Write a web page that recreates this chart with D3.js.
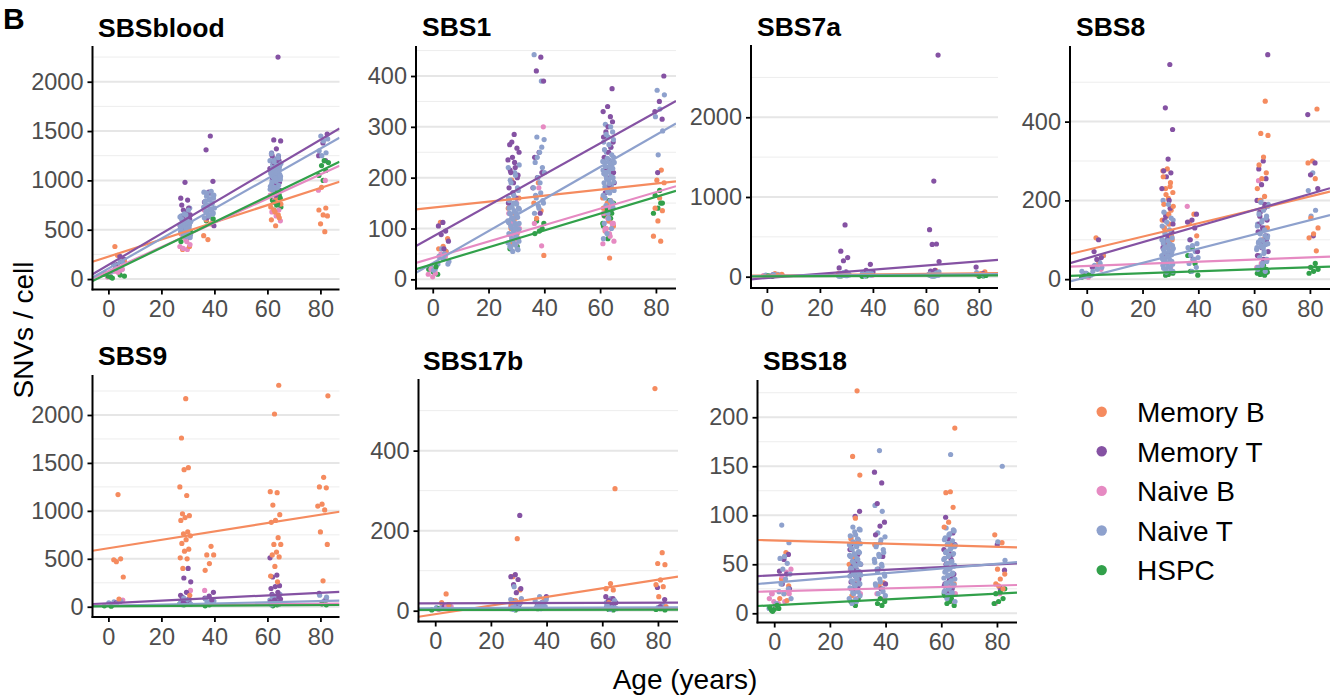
<!DOCTYPE html>
<html><head><meta charset="utf-8">
<script src="https://cdn.jsdelivr.net/npm/d3@7"></script>
<style>body{margin:0;background:#fff}svg{display:block}text{font-family:"Liberation Sans",Arial,sans-serif}</style>
</head><body>
<svg id="c" width="1341" height="699"></svg>
<script>
// ---------- DATA ----------
const ages = [0, 4, 29, 38, 63, 81];
const cellTypes = ["Memory B", "Memory T", "Naive B", "Naive T", "HSPC"];
const colors = ["#F58B5F", "#8552A3", "#E68AC2", "#8EA1CD", "#31A04A"];
const xTicks = [0, 20, 40, 60, 80];

// values per cell type (order of cellTypes), per donor (order of ages)
const SBSblood = [
  [[], [330, 200, 240, 180], [300, 330, 420, 460, 500, 550], [400, 440, 560, 600], [540, 600, 650, 700, 760, 820, 900, 620, 680, 730], [480, 560, 640, 650, 700, 720, 930]],
  [[], [150, 200, 230, 130, 170], [980, 820, 800, 700, 650, 600, 750, 720, 560, 540, 680, 630, 610, 580, 520], [1450, 1310, 990, 880, 780, 700, 620, 540], [2250, 1410, 1400, 1320, 1250, 1200, 1150, 1100, 1050, 1000, 900, 850, 1270, 1230, 1180, 1120, 1080, 1030, 980, 950], [1470, 1380, 1250, 1200]],
  [[20, 50, 70], [60, 80, 100, 70], [300, 310, 350, 400, 480, 520, 620, 330, 380, 450], [600, 650, 700], [590, 640, 680, 700, 800, 850], [900, 1000]],
  [[40, 60, 80], [100, 130, 150, 180, 110, 160], [720, 680, 640, 620, 600, 580, 560, 540, 520, 500, 480, 460, 440, 420, 650, 610, 700, 660, 630, 590, 570, 550, 530, 510, 490, 470, 450, 430, 600, 580, 560, 540], [880, 860, 840, 820, 800, 780, 760, 740, 720, 700, 680, 660, 640, 620, 890, 870, 850, 810, 790, 770, 750, 730, 710, 690, 670, 650], [1280, 1250, 1220, 1200, 1180, 1160, 1140, 1120, 1100, 1080, 1060, 1040, 1020, 1000, 980, 960, 940, 920, 900, 1010, 1090, 1270, 1230, 1190, 1170, 1150, 1130, 1110, 1090, 1070, 1050, 1030, 1010, 990, 970, 950, 930, 910, 1150, 1100, 1060, 1020], [1450, 1420, 1400, 1300, 1280, 1250]],
  [[10, 30, 50, 20], [30, 40], [380, 420, 450, 480], [590, 610, 640], [700, 730, 750, 800, 850, 900, 920, 760, 780, 820, 870], [1000, 1050, 1100, 1150, 1180, 1200]]
];
const SBS1 = [
  [[], [112, 80, 65, 60, 55], [195, 160, 130, 110, 90, 70, 140, 120, 100, 80], [190, 150, 135, 120, 47], [42, 95, 110, 125, 140, 155, 100, 105, 115, 130, 145, 150, 160], [215, 195, 190, 160, 140, 135, 115, 85, 75]],
  [[], [112, 105, 95, 88, 75, 60], [285, 265, 258, 240, 235, 220, 210, 205, 190, 180, 160, 270, 250, 230, 215, 200, 170, 150], [437, 410, 390, 250, 240, 210, 200, 180, 130], [375, 340, 330, 320, 290, 270, 250, 240, 230, 200, 190, 180, 170, 310, 300, 280, 260, 220, 210, 185], [400, 350, 330, 315, 210]],
  [[5, 10, 12, 20], [45, 50], [150, 120, 100, 80, 65, 95, 110, 130, 70, 85], [300, 180, 110, 66], [70, 85, 95, 105, 115, 125, 135, 145, 75, 90, 100, 110, 120, 130, 140, 100, 110], []],
  [[20, 25, 30, 18], [30, 40, 45, 55, 60, 35, 50], [225, 210, 195, 180, 170, 160, 150, 145, 140, 135, 130, 125, 120, 115, 110, 105, 100, 95, 90, 85, 80, 75, 70, 65, 60, 55, 220, 205, 190, 175, 165, 155, 148, 142, 138, 132, 128, 122, 118, 112, 108, 102, 98, 92, 88, 82, 78, 72, 68, 62, 58, 150, 140, 130, 120, 110, 100], [442, 390, 280, 275, 250, 230, 220, 200, 180, 170, 160, 150, 140, 130, 260, 240, 210, 190, 165, 155, 145], [305, 290, 280, 270, 260, 250, 240, 235, 230, 225, 220, 215, 210, 205, 200, 195, 190, 185, 180, 175, 170, 160, 150, 130, 80, 300, 285, 275, 265, 255, 245, 238, 232, 228, 222, 218, 212, 208, 202, 198, 192, 188, 182, 178, 172, 165, 155, 145, 140, 120, 110, 100, 90, 230, 220, 210, 200], [372, 363, 335, 320, 292, 245]],
  [[10, 15, 20, 25], [], [60, 65, 75], [115, 110, 95, 90, 100], [80, 105, 120, 135, 150, 155, 125, 130, 140, 110], [175, 165, 150, 140, 130, 150]]
];
const SBS7a = [
  [[], [40, 30, 20], [20, 40], [30, 20], [80, 60, 40, 20], [60, 40, 30]],
  [[], [15, 25], [650, 320, 240, 200, 110, 60, 40], [155, 80, 60, 40], [2780, 1200, 590, 410, 405, 190, 80, 70, 50, 30], [120, 40]],
  [[5, 15], [20], [15, 30], [20], [30, 20], []],
  [[10, 20], [20, 30, 25], [10, 20, 30, 40, 15, 25, 12, 18, 22, 28, 35, 45, 50, 8], [10, 20, 30, 40, 25, 15, 35, 45], [10, 20, 30, 40, 50, 15, 25, 12, 18, 22, 28, 35, 45, 8, 60], [30, 50, 20]],
  [[5, 10], [], [10], [10, 5], [10, 20], [10, 5, 15]]
];
const SBS8 = [
  [[], [105, 60, 40], [280, 275, 235, 230, 220, 205, 190, 175, 160, 150, 140, 120, 100, 90, 260, 245, 215, 185, 165, 130, 110], [165, 145, 110], [452, 370, 365, 310, 290, 270, 255, 230, 210, 200, 130, 100, 60], [432, 300, 295, 255, 155, 130, 115, 105, 72]],
  [[15], [100, 70, 55, 50, 30], [545, 435, 380, 305, 275, 270, 260, 230, 200, 150, 120, 100, 80, 180, 160, 140, 110, 90, 70, 60], [165, 150, 145, 130, 100, 70, 50], [570, 300, 280, 255, 240, 200, 180, 160, 150, 130, 120, 110, 90, 70, 50, 140, 100, 80, 60, 190, 170], [418, 295, 265, 230, 110]],
  [[5, 12], [25, 30], [80, 60, 40, 30, 20], [185, 50], [250, 50, 40, 30], [30]],
  [[10, 15, 20], [60, 45, 35, 30, 25, 20, 40], [200, 180, 165, 150, 140, 130, 120, 110, 100, 95, 90, 85, 80, 75, 70, 65, 60, 55, 50, 45, 40, 35, 30, 25, 20, 190, 170, 155, 145, 135, 125, 115, 105, 98, 92, 88, 82, 78, 72, 68, 62, 58, 52, 48, 42, 38, 32, 28, 22, 18, 100, 90, 80, 70, 60, 50], [100, 90, 85, 80, 70, 60, 55, 50, 40, 30, 20], [200, 190, 180, 170, 160, 150, 140, 130, 120, 110, 100, 95, 90, 85, 80, 70, 60, 50, 40, 30, 20, 195, 185, 175, 165, 155, 145, 135, 125, 115, 105, 98, 92, 88, 82, 75, 65, 55, 45, 35, 25, 110, 100, 90, 80], [270, 225, 175, 160]],
  [[5, 10, 8], [], [10, 15, 12], [80, 60, 40, 20, 10], [35, 30, 25, 20, 15, 10, 12, 18, 22, 28, 16, 14], [40, 30, 25, 20, 15]]
];
const SBS9 = [
  [[], [1170, 490, 500, 470, 310, 80], [2170, 1760, 1450, 1430, 1250, 1160, 970, 950, 930, 900, 780, 760, 740, 700, 660, 600, 580, 510, 500, 400, 120], [630, 540, 540, 450, 380], [2310, 2010, 1200, 1190, 1060, 960, 900, 880, 720, 650, 650, 570, 540, 520, 420, 320, 260], [2200, 1350, 1250, 1240, 1070, 1050, 1010, 780, 650, 270]],
  [[], [60, 40], [400, 300, 260, 150, 100, 80, 60, 120, 50, 40, 30], [150, 110, 90, 70], [510, 330, 310, 220, 210, 190, 150, 110, 80, 60, 130, 100, 70, 50, 40], [140, 80]],
  [[30], [70], [170, 60], [170], [30], [30]],
  [[20, 40], [50, 60, 30], [40, 60, 80, 30, 50, 20, 35, 45, 55, 70, 90, 25], [40, 60, 50, 80], [40, 60, 80, 100, 130, 50, 20, 30, 45, 70, 90, 110], [60, 120, 100]],
  [[10, 5], [], [20, 30], [20, 10], [20, 10, 30], [20, 30]]
];
const SBS17b = [
  [[], [42, 20, 15], [180, 85, 52, 25, 15], [25, 15], [305, 68, 55, 52, 20], [555, 145, 118, 115, 77, 65, 60, 35, 10]],
  [[], [15, 10], [238, 90, 85, 78, 65, 55, 45, 25, 15], [35, 20, 15], [35, 30, 25, 20, 15, 10], [58, 28, 10]],
  [[3], [10, 12], [10, 5], [10], [10], []],
  [[5, 8], [10, 12], [25, 20, 15, 10, 5, 60, 30, 12, 8, 18, 22, 28, 6, 3], [35, 25, 20, 15, 10, 5, 8, 12, 18, 28], [30, 20, 15, 10, 5, 8, 12, 25, 3], [15, 8]],
  [[2, 5], [], [2, 5], [8, 5], [2, 3], [2, 5, 3]]
];
const SBS18 = [
  [[], [62, 35, 28, 20, 15, 13], [227, 160, 141, 97, 76, 72, 58, 50, 30, 18], [31, 28, 70], [189, 124, 123, 108, 93, 88, 70, 50, 30], [80, 72, 45, 40, 35, 30, 25, 28]],
  [[8], [60, 55, 43, 40, 30, 25], [104, 99, 70, 60, 55, 50, 45, 40, 35, 30, 65, 52, 48, 42, 38, 32, 28, 25], [144, 133, 112, 93, 89, 80, 58, 45, 30, 25], [98, 82, 76, 65, 55, 45, 40, 35, 30, 25, 20, 70, 60, 50, 36, 32, 28], [70, 44, 26]],
  [[10, 12, 15, 8, 20], [45, 42, 38, 20, 12], [45, 30, 25, 20, 15], [20, 15], [30, 20, 12], [20, 10]],
  [[5, 10, 20, 22], [90, 72, 58, 56, 51, 45, 40, 35, 30, 25, 20, 15], [88, 85, 80, 78, 75, 72, 70, 68, 65, 62, 60, 58, 55, 52, 50, 48, 45, 42, 40, 38, 35, 32, 30, 28, 25, 22, 20, 15, 12, 10, 86, 83, 79, 76, 73, 71, 69, 66, 63, 61, 59, 56, 53, 51, 49, 46, 43, 41, 39, 36, 33, 31, 29, 26, 23, 21, 18, 14], [166, 110, 104, 82, 78, 72, 68, 65, 60, 55, 50, 45, 40, 35, 30, 25, 20, 18, 75, 70, 62, 58, 52, 48, 42, 38, 32, 28, 22], [162, 87, 85, 80, 75, 72, 70, 68, 65, 62, 60, 58, 55, 52, 50, 48, 45, 42, 40, 38, 35, 32, 30, 28, 25, 22, 20, 15, 84, 81, 77, 74, 71, 69, 66, 63, 61, 59, 56, 53, 51, 49, 46, 43, 41, 39, 36, 33, 31, 29, 26, 23, 21, 18, 12], [150, 73, 54]],
  [[3, 5, 4, 6, 8, 2], [], [8, 12, 15], [8, 10, 12, 15], [28, 25, 20, 15, 10, 8, 12, 18], [25, 22, 20, 15, 12, 10]]
];

// linear fits: intercept and slope per cell type
const fitIntercept = {
  SBSblood: [227, 143, 79, 106, 58],
  SBS1: [141, 84, 42, 32, 30],
  SBS7a: [15, -17, 5, 10, 3],
  SBS8: [74, 53, 33.6, 5, 9.9],
  SBS9: [610, 36, 10, 10.6, 5],
  SBS17b: [-8.6, 18.6, 4, 6.2, 2],
  SBS18: [74.3, 38.8, 22.4, 31.3, 8.3]
};
const fitSlope = {
  SBSblood: [8.70, 15.87, 12.26, 15.2, 12.97],
  SBS1: [0.593, 3.06, 1.62, 3.15, 1.655],
  SBS7a: [0.35, 2.61, 0.2, 0.25, 0.15],
  SBS8: [1.70, 2.04, 0.27, 1.81, 0.253],
  SBS9: [4.37, 1.37, 0.25, 0.6, 0.15],
  SBS17b: [1.073, 0.016, 0.01, 0.027, 0.01],
  SBS18: [-0.08, 0.14, 0.074, 0.24, 0.146]
};
const yTicks = {
  SBSblood: [0, 500, 1000, 1500, 2000],
  SBS1: [0, 100, 200, 300, 400],
  SBS7a: [0, 1000, 2000],
  SBS8: [0, 200, 400],
  SBS9: [0, 500, 1000, 1500, 2000],
  SBS17b: [0, 200, 400],
  SBS18: [0, 50, 100, 150, 200]
};

// ---------- LAYOUT ----------
const xDomain = [-6, 87.2];
const panels = [
  {name: "SBSblood", data: SBSblood, box: [92.5, 339.5, 46, 289.5], yd: [-106, 2362], title: [98, 37]},
  {name: "SBS1", data: SBS1, box: [416, 676, 46, 288.5], yd: [-18, 459], title: [422, 36]},
  {name: "SBS7a", data: SBS7a, box: [751, 998, 45, 288], yd: [-142, 2907], title: [757, 36]},
  {name: "SBS8", data: SBS8, box: [1070, 1330, 46, 289], yd: [-25, 592], title: [1076, 36]},
  {name: "SBS9", data: SBS9, box: [92.5, 339.5, 375, 617], yd: [-107, 2417], title: [98, 365]},
  {name: "SBS17b", data: SBS17b, box: [418.5, 678, 379, 621.5], yd: [-27, 579], title: [423, 370]},
  {name: "SBS18", data: SBS18, box: [757.5, 1017, 380, 622.5], yd: [-9.4, 238], title: [763, 370]}
];

const svg = d3.select("#c");
const defs = svg.append("defs");

panels.forEach((p, pi) => {
  const [x0, x1, y0, y1] = p.box;
  const x = d3.scaleLinear().domain(xDomain).range([x0, x1]);
  const y = d3.scaleLinear().domain(p.yd).range([y1, y0]);
  const g = svg.append("g");
  const clipId = "clip" + pi;
  defs.append("clipPath").attr("id", clipId).append("rect")
    .attr("x", x0).attr("y", y0).attr("width", x1 - x0).attr("height", y1 - y0);

  // grid
  const major = yTicks[p.name];
  const step = major[1] - major[0];
  const minor = d3.range(step / 2, p.yd[1], step);
  g.selectAll(".gmin").data(minor).join("line")
    .attr("x1", x0).attr("x2", x1).attr("y1", d => y(d)).attr("y2", d => y(d))
    .attr("stroke", "#ededed").attr("stroke-width", 1);
  g.selectAll(".gmaj").data(major).join("line")
    .attr("x1", x0).attr("x2", x1).attr("y1", d => y(d)).attr("y2", d => y(d))
    .attr("stroke", "#e6e6e6").attr("stroke-width", 2);

  // points, interleaved by cell type inside each donor cluster
  const pts = [];
  ages.forEach((age, di) => {
    const maxN = d3.max(p.data, arr => arr[di].length);
    for (let k = 0; k < maxN; k++) {
      cellTypes.forEach((ct, ti) => {
        const v = p.data[ti][di][k];
        if (v === undefined) return;
        const j = ((k * 0.618034 + ti * 0.2137 + di * 0.131 + pi * 0.07) % 1 - 0.5) * 4.2;
        pts.push({age: age + j, v: v, t: ti});
      });
    }
  });
  g.append("g").attr("clip-path", `url(#${clipId})`).selectAll("circle").data(pts).join("circle")
    .attr("cx", d => x(d.age)).attr("cy", d => y(d.v)).attr("r", 2.6)
    .attr("fill", d => colors[d.t]);

  // fit lines
  const lines = cellTypes.map((ct, ti) => ({ti, a: fitIntercept[p.name][ti], b: fitSlope[p.name][ti]}));
  g.append("g").attr("clip-path", `url(#${clipId})`).selectAll("line").data(lines).join("line")
    .attr("x1", x(xDomain[0])).attr("x2", x(xDomain[1]))
    .attr("y1", d => y(d.a + d.b * xDomain[0])).attr("y2", d => y(d.a + d.b * xDomain[1]))
    .attr("stroke", d => colors[d.ti]).attr("stroke-width", 2.2);

  // axes
  const ya = g.append("g").attr("transform", `translate(${x0},0)`)
    .call(d3.axisLeft(y).tickValues(major).tickSize(5).tickPadding(4).tickFormat(d3.format("d")));
  const xa = g.append("g").attr("transform", `translate(0,${y1})`)
    .call(d3.axisBottom(x).tickValues(xTicks).tickSize(5).tickPadding(6).tickFormat(d3.format("d")));
  [ya, xa].forEach(a => {
    a.select(".domain").remove();
    a.selectAll(".tick line").attr("stroke", "#000").attr("stroke-width", 1.8);
    a.selectAll("text").attr("font-size", 23.5).attr("fill", "#4d4d4d")
      .style("font-family", '"Liberation Sans", Arial, sans-serif');
  });
  g.append("line").attr("x1", x0).attr("x2", x0).attr("y1", y0).attr("y2", y1 + 0.9)
    .attr("stroke", "#000").attr("stroke-width", 2);
  g.append("line").attr("x1", x0 - 0.9).attr("x2", x1).attr("y1", y1).attr("y2", y1)
    .attr("stroke", "#000").attr("stroke-width", 2);

  g.append("text").attr("x", p.title[0]).attr("y", p.title[1]).text(p.name)
    .attr("font-size", 26.5).attr("font-weight", "bold").attr("fill", "#000");
});

// axis titles
svg.append("text").attr("x", 685).attr("y", 689).attr("text-anchor", "middle")
  .attr("font-size", 28).text("Age (years)");
svg.append("text").attr("transform", "translate(33,330) rotate(-90)").attr("text-anchor", "middle")
  .attr("font-size", 28).text("SNVs / cell");

// panel label
svg.append("text").attr("x", 3).attr("y", 29).attr("font-size", 30).attr("font-weight", "bold").text("B");

// legend
const leg = svg.append("g");
cellTypes.forEach((ct, i) => {
  const cy = 411.7 + i * 39.6;
  leg.append("circle").attr("cx", 1101.7).attr("cy", cy).attr("r", 5.2).attr("fill", colors[i]);
  leg.append("text").attr("x", 1137).attr("y", cy + 10.3).attr("font-size", 28).text(ct);
});
</script>
</body></html>
